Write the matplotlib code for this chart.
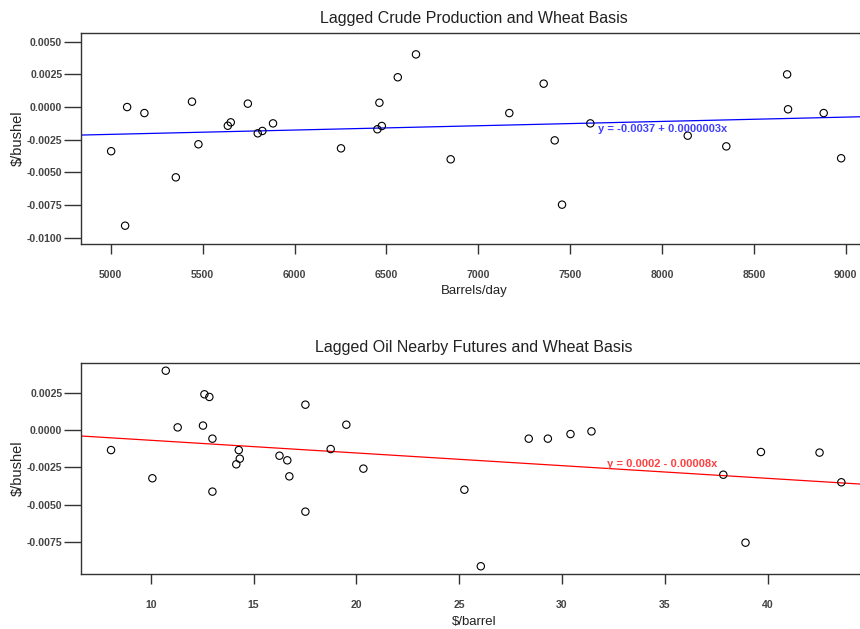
import matplotlib
matplotlib.use("Agg")
import matplotlib.pyplot as plt
import numpy as np

# Lagged crude production (barrels/day) vs wheat basis ($/bushel)
crude_x = [5002, 5089, 5078, 5183, 5354, 5442, 5477, 5637, 5653, 5746, 5800,
           5825, 5883, 6253, 6451, 6462, 6475, 6562, 6661, 6850, 7169, 7356,
           7416, 7456, 7610, 8140, 8350, 8681, 8686, 8880, 8975]
crude_y = [-0.00338, 0.0000, -0.00908, -0.00046, -0.00538, 0.00041, -0.00285,
           -0.00143, -0.00117, 0.00026, -0.00201, -0.00183, -0.00125, -0.00316,
           -0.00170, 0.00033, -0.00145, 0.00228, 0.00403, -0.00400, -0.00046,
           0.00179, -0.00255, -0.00747, -0.00125, -0.00219, -0.00301, 0.00250,
           -0.00017, -0.00046, -0.00392]
crude_fit = (-0.00374, 3.3e-7)
crude_label = "y = -0.0037 + 0.0000003x"

# Lagged oil nearby futures ($/barrel) vs wheat basis ($/bushel)
oil_x = [8.07, 10.08, 10.73, 11.31, 12.54, 12.61, 12.85, 13.00, 13.00, 14.16,
         14.28, 14.33, 16.26, 16.64, 16.74, 17.52, 17.52, 18.75, 19.51, 20.34,
         25.25, 26.05, 28.38, 29.31, 30.41, 31.43, 37.84, 38.92, 39.67, 42.52,
         43.58]
oil_y = [-0.00133, -0.00323, 0.00402, 0.00020, 0.00032, 0.00243, 0.00225,
         -0.00056, -0.00413, -0.00229, -0.00133, -0.00191, -0.00171, -0.00202,
         -0.00310, 0.00173, -0.00548, -0.00126, 0.00038, -0.00258, -0.00400,
         -0.00916, -0.00056, -0.00056, -0.00025, -0.00007, -0.00299, -0.00757,
         -0.00146, -0.00150, -0.00350]
oil_fit = (0.000185, -8.55e-5)
oil_label = "y = 0.0002 - 0.00008x"

crude_xticks = [5000, 5500, 6000, 6500, 7000, 7500, 8000, 8500, 9000]
crude_yticks = [0.005, 0.0025, 0.0, -0.0025, -0.005, -0.0075, -0.01]
oil_xticks = [10, 15, 20, 25, 30, 35, 40]
oil_yticks = [0.0025, 0.0, -0.0025, -0.005, -0.0075]

plt.rcParams['font.family'] = ['Liberation Sans', 'DejaVu Sans']

fig = plt.figure(figsize=(8.6, 6.29), dpi=100)
ax1 = fig.add_axes([0.0942, 0.6121, 0.914, 0.3355])
ax2 = fig.add_axes([0.0942, 0.0870, 0.914, 0.3364])


def style_axes(ax, xticks, yticks, xlim, ylim):
    ax.set_xlim(*xlim)
    ax.set_ylim(*ylim)
    ax.set_xticks(xticks)
    ax.set_yticks(yticks)
    ax.set_yticklabels([f"{t:.4f}" for t in yticks])
    for s in ax.spines.values():
        s.set_color('#333333')
        s.set_linewidth(1.0)
    ax.tick_params(axis='x', direction='out', length=7.5, width=1.0,
                   pad=11, labelsize=7.6, colors='#333333')
    ax.tick_params(axis='y', direction='out', length=12.5, width=1.0,
                   pad=1, labelsize=7.6, colors='#333333')
    for lab in ax.get_xticklabels() + ax.get_yticklabels():
        lab.set_fontweight('bold')
        lab.set_color('#444444')


def draw_panel(ax, x, y, fit, color, txtcolor, label, label_pos):
    ax.scatter(x, y, s=28, facecolors='none', edgecolors='black',
               linewidths=0.8, zorder=3)
    xs = np.array(ax.get_xlim())
    ax.plot(xs, fit[0] + fit[1] * xs, color=color, lw=0.9, zorder=2)
    ax.text(label_pos[0], label_pos[1], label, color=txtcolor, fontsize=8,
            ha='left', va='center', fontweight='bold')


style_axes(ax1, crude_xticks, crude_yticks, (4838, 9116), (-0.01048, 0.00567))
draw_panel(ax1, crude_x, crude_y, crude_fit, 'blue', '#4040ff', crude_label,
           (7650, -0.00167))
ax1.set_title("Lagged Crude Production and Wheat Basis", fontsize=11.5,
              color='#222222', pad=7.5)
ax1.set_xlabel("Barrels/day", fontsize=9.5, color='#222222', labelpad=4)
ax1.set_ylabel(r"\$/bushel", fontsize=10.5, color='#222222', labelpad=1.5)

style_axes(ax2, oil_xticks, oil_yticks, (6.61, 44.83), (-0.0097, 0.00456))
draw_panel(ax2, oil_x, oil_y, oil_fit, 'red', '#ff4040', oil_label,
           (32.2, -0.00225))
ax2.set_title("Lagged Oil Nearby Futures and Wheat Basis", fontsize=11.5,
              color='#222222', pad=8)
ax2.set_xlabel(r"\$/barrel", fontsize=9.5, color='#222222', labelpad=4)
ax2.set_ylabel(r"\$/bushel", fontsize=10.5, color='#222222', labelpad=1.5)

fig.savefig("out.png", dpi=100)
